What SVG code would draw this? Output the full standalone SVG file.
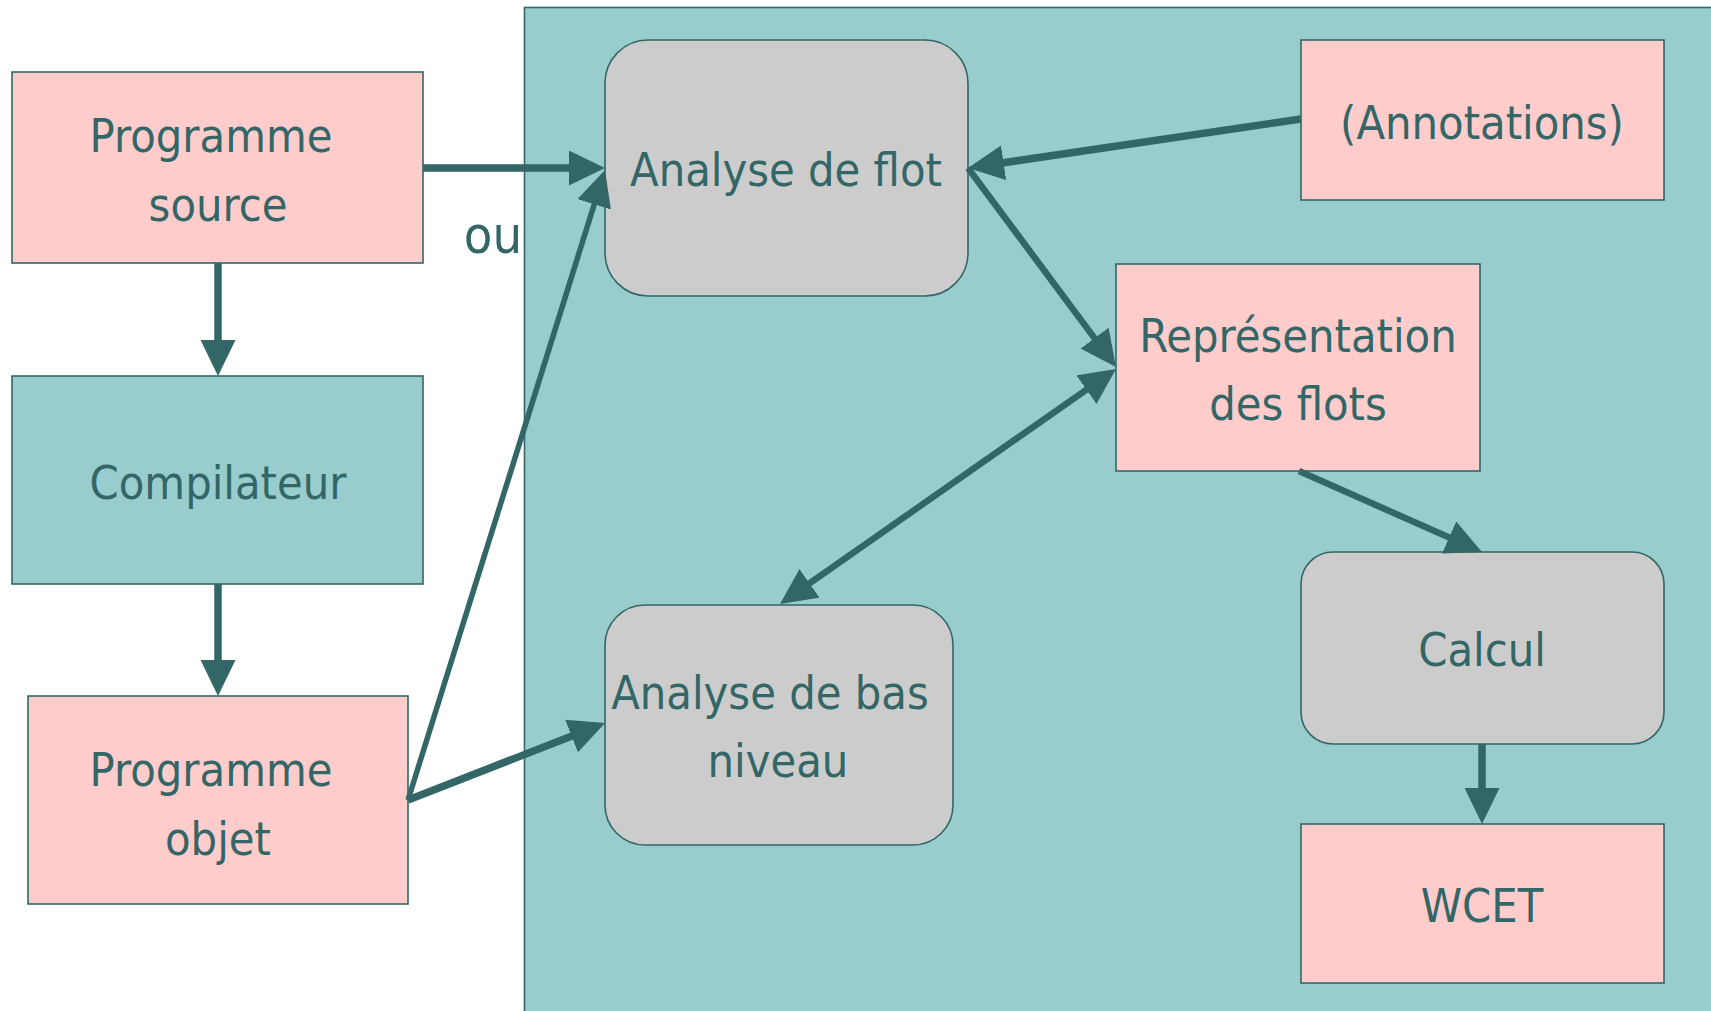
<svg xmlns="http://www.w3.org/2000/svg" width="1711" height="1011" viewBox="0 0 1711 1011">
  <style>
    .pink { fill: #FFCCCC; stroke: #336666; stroke-width: 1.6; }
    .grey { fill: #CCCCCC; stroke: #336666; stroke-width: 1.6; }
    .teal { fill: #99CCCC; stroke: #336666; stroke-width: 1.6; }
    .lbl { font-family: "DejaVu Sans Condensed", "DejaVu Sans", sans-serif; font-stretch: condensed; font-size: 46.5px; fill: #336666; text-anchor: middle; }
    .big { font-size: 52px; }
    .conn { stroke: #336666; stroke-width: 7.5; fill: none; marker-end: url(#head); }
    .thin { stroke-width: 5.5; }
    .mid { stroke-width: 6.5; }
  </style>
  <defs>
    <marker id="head" viewBox="0 0 36 35" markerWidth="36" markerHeight="35" refX="28" refY="17.5" orient="auto-start-reverse" markerUnits="userSpaceOnUse">
      <path d="M0,0 L36,17.5 L0,35 z" fill="#336666"/>
    </marker>
  </defs>

  <rect width="1711" height="1011" fill="#FFFFFF"/>

  <!-- analysis tool area -->
  <rect id="tool-area" class="teal" x="524.5" y="7.5" width="1210" height="1030"/>

  <g id="programme-source">
    <rect class="pink" x="12" y="72" width="411" height="191"/>
    <text class="lbl" x="211" y="152">Programme</text>
    <text class="lbl" x="218" y="221">source</text>
  </g>

  <g id="compilateur">
    <rect class="teal" x="12" y="376" width="411" height="208"/>
    <text class="lbl" x="218" y="499">Compilateur</text>
  </g>

  <g id="programme-objet">
    <rect class="pink" x="28" y="696" width="380" height="208"/>
    <text class="lbl" x="211" y="786">Programme</text>
    <text class="lbl" x="218" y="855">objet</text>
  </g>

  <g id="ou">
    <text class="lbl big" x="493" y="253">ou</text>
  </g>

  <g id="analyse-flot">
    <rect class="grey" x="605" y="40" width="363" height="256" rx="43" ry="43"/>
    <text class="lbl" x="786" y="186">Analyse de flot</text>
  </g>

  <g id="annotations">
    <rect class="pink" x="1301" y="40" width="363" height="160"/>
    <text class="lbl" x="1482" y="139">(Annotations)</text>
  </g>

  <g id="representation">
    <rect class="pink" x="1116" y="264" width="364" height="207"/>
    <text class="lbl" x="1298" y="352">Représentation</text>
    <text class="lbl" x="1298" y="420">des flots</text>
  </g>

  <g id="analyse-bas-niveau">
    <rect class="grey" x="605" y="605" width="348" height="240" rx="40" ry="40"/>
    <text class="lbl" x="770" y="709">Analyse de bas</text>
    <text class="lbl" x="778" y="777">niveau</text>
  </g>

  <g id="calcul">
    <rect class="grey" x="1301" y="552" width="363" height="192" rx="32" ry="32"/>
    <text class="lbl" x="1482" y="666">Calcul</text>
  </g>

  <g id="wcet">
    <rect class="pink" x="1301" y="824" width="363" height="159"/>
    <text class="lbl" x="1482" y="922">WCET</text>
  </g>

  <g id="connectors">
    <line class="conn" x1="423" y1="168" x2="597" y2="168"/>
    <line class="conn" x1="218" y1="263" x2="218" y2="368"/>
    <line class="conn" x1="218" y1="584" x2="218" y2="688"/>
    <line class="conn thin" x1="408" y1="800" x2="602.6" y2="177.6"/>
    <line class="conn" x1="408" y1="800" x2="597.6" y2="725.9"/>
    <line class="conn" x1="1301" y1="119" x2="975.9" y2="166.8"/>
    <line class="conn mid" x1="968" y1="168" x2="1111.2" y2="360.6"/>
    <line class="conn mid" x1="786.6" y1="599.4" x2="1109.4" y2="373.6" marker-start="url(#head)"/>
    <line class="conn mid" x1="1299" y1="471" x2="1474.7" y2="548.8"/>
    <line class="conn" x1="1482" y1="744" x2="1482" y2="816"/>
  </g>
</svg>
